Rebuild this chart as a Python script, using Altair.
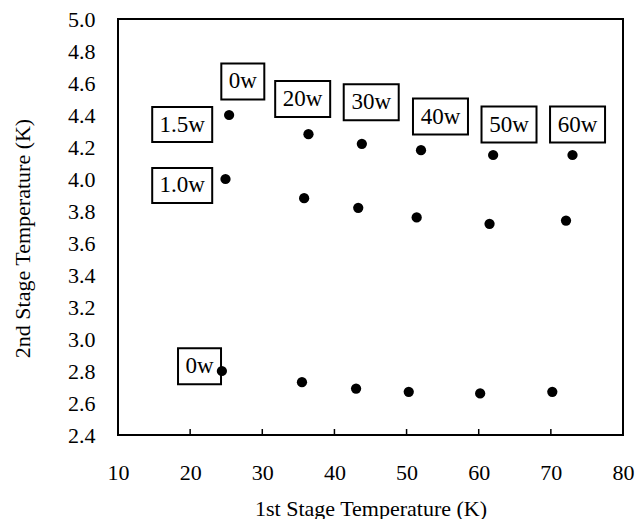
import altair as alt
import pandas as pd

# Series
x_top = [25.4, 36.4, 43.8, 52.0, 62.0, 73.0]
y_top = [4.40, 4.28, 4.22, 4.18, 4.15, 4.15]
x_mid = [24.9, 35.8, 43.3, 51.4, 61.5, 72.1]
y_mid = [4.00, 3.88, 3.82, 3.76, 3.72, 3.74]
x_bot = [24.4, 35.5, 43.0, 50.3, 60.2, 70.2]
y_bot = [2.80, 2.73, 2.69, 2.67, 2.66, 2.67]

# Annotation boxes
labels = ["1.5w", "0w", "20w", "30w", "40w", "50w", "60w", "1.0w", "0w"]
label_x = [18.9, 27.3, 35.6, 45.1, 54.7, 64.2, 73.7, 18.9, 21.3]
label_y = [4.34, 4.61, 4.50, 4.48, 4.39, 4.34, 4.34, 3.96, 2.83]

x_ticks = [10, 20, 30, 40, 50, 60, 70, 80]
y_ticks = [2.4, 2.6, 2.8, 3.0, 3.2, 3.4, 3.6, 3.8, 4.0, 4.2, 4.4, 4.6, 4.8, 5.0]
inner_ticks = [20, 30, 40, 50, 60, 70]

FONT = "Liberation Serif"

pts = pd.DataFrame({
    "x": x_top + x_mid + x_bot,
    "y": y_top + y_mid + y_bot,
})
lab = pd.DataFrame({"x": label_x, "y": label_y, "t": labels})
lab["n"] = lab["t"].str.len()
ticks = pd.DataFrame({"x": inner_ticks, "y": [2.4] * len(inner_ticks), "y2": [2.4375] * len(inner_ticks)})

xs = alt.Scale(domain=[10, 80], nice=False, zero=False)
ys = alt.Scale(domain=[2.4, 5.0], nice=False, zero=False)

xaxis = alt.Axis(values=x_ticks, title="1st Stage Temperature (K)", labelPadding=27,
                 titleY=73, titleBaseline="middle", labelOverlap=False, labelFlush=False)
yaxis = alt.Axis(values=y_ticks, format=".1f", title="2nd Stage Temperature (K)", labelPadding=23,
                 titleX=-96, titleY=219, titleAngle=-90, titleAlign="center", titleBaseline="middle",
                 labelOverlap=False, labelFlush=False)

X = alt.X("x:Q", scale=xs, axis=xaxis)
Y = alt.Y("y:Q", scale=ys, axis=yaxis)

points = alt.Chart(pts).mark_point(filled=True, color="black", size=105, opacity=1).encode(x=X, y=Y)

tickmarks = alt.Chart(ticks).mark_rule(color="black", strokeWidth=1.5).encode(x=X, y=Y, y2="y2:Q")

def box_layer(n, w, h):
    r = h / w
    path = f"M-1,-{r:.4f} H1 V{r:.4f} H-1 Z"
    return alt.Chart(lab).transform_filter(alt.datum.n == n).mark_point(
        shape=path, size=w * w, filled=True, fill="white", stroke="black", strokeWidth=2, opacity=1
    ).encode(x=X, y=Y)

boxes = box_layer(2, 43, 36) + box_layer(3, 55, 36) + box_layer(4, 60, 35)

texts = alt.Chart(lab).mark_text(font=FONT, fontSize=23, color="black", baseline="middle", align="center", dy=0).encode(
    x=X, y=Y, text="t:N"
)

chart = alt.layer(tickmarks, boxes, texts, points).properties(
    width=505, height=416,
    autosize=alt.AutoSizeParams(type="none"),
    padding={"left": 118, "top": 19, "right": 21, "bottom": 84},
    background="white",
).configure_view(stroke="black", strokeWidth=2).configure_axis(
    grid=False, domain=False, ticks=False,
    labelFont=FONT, labelFontSize=22, labelColor="black",
    titleFont=FONT, titleFontSize=22, titleFontWeight="normal", titleColor="black",
)

chart.save("out.html", embed_options={"renderer": "svg", "actions": False})
